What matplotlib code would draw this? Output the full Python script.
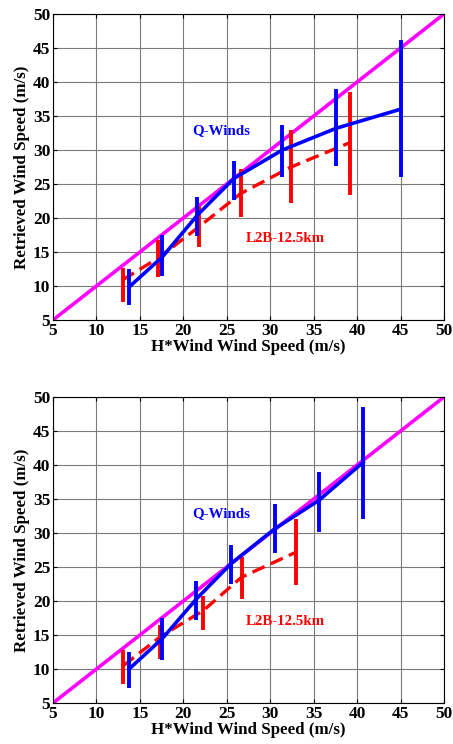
import matplotlib.pyplot as plt
import numpy as np

# ------- data --------------------------------#
# top panel
qx_top = [13.8, 17.6, 21.6, 25.8, 31.4, 37.6, 45.0]
qy_top = [9.9, 14.3, 20.4, 25.8, 30.0, 33.2, 36.0]
qlo_top = [7.2, 11.4, 17.3, 22.7, 26.1, 27.6, 26.1]
qhi_top = [12.45, 17.5, 23.1, 28.4, 33.7, 38.9, 46.2]

lx_top = [13.0, 17.1, 21.8, 26.6, 32.4, 39.2]
ly_top = [10.9, 14.1, 18.7, 23.6, 27.5, 31.1]
llo_top = [7.6, 11.3, 15.7, 20.2, 22.2, 23.4]
lhi_top = [12.7, 16.8, 21.7, 27.2, 32.9, 38.6]

# bottom panel
qx_bot = [13.8, 17.6, 21.5, 25.5, 30.5, 35.6, 40.7]
qy_bot = [10.05, 14.5, 20.3, 25.5, 30.6, 34.8, 40.4]
qlo_bot = [7.2, 11.3, 17.2, 22.5, 27.0, 30.2, 32.1]
qhi_bot = [12.5, 17.5, 23.0, 28.3, 34.3, 39.0, 48.5]

lx_bot = [13.1, 17.3, 22.3, 26.7, 33.0]
ly_bot = [10.5, 14.7, 18.6, 23.5, 27.2]
llo_bot = [7.8, 11.4, 15.8, 20.3, 22.3]
lhi_bot = [12.8, 16.4, 20.8, 26.5, 32.1]

ticks = [5, 10, 15, 20, 25, 30, 35, 40, 45, 50]

plt.rcParams['font.family'] = ['Liberation Serif', 'DejaVu Serif']
plt.rcParams['font.weight'] = 'bold'


def drawPanel(ax, qx, qy, qlo, qhi, lx, ly, llo, lhi):
    ax.grid(True, color='#7a7a7a', linewidth=0.8)
    ax.set_axisbelow(True)
    # 1:1 line
    ax.plot([5, 50], [5, 50], color='#ff00ff', linewidth=2.6, zorder=2)
    # L2B-12.5km
    ly_arr = np.array(ly)
    ax.errorbar(lx, ly, yerr=[ly_arr - np.array(llo), np.array(lhi) - ly_arr],
                color='#ff0000', linewidth=2.4, linestyle='--', dashes=(4, 2),
                elinewidth=2.8, capsize=0, zorder=3)
    # Q-Winds
    qy_arr = np.array(qy)
    ax.errorbar(qx, qy, yerr=[qy_arr - np.array(qlo), np.array(qhi) - qy_arr],
                color='#0000ff', linewidth=2.6, elinewidth=2.8, capsize=0, zorder=4)
    ax.text(24.4, 32.9, 'Q-Winds', color='#0000ff', fontsize=10.8, fontweight='bold',
            ha='center', va='center')
    ax.text(31.7, 17.0, 'L2B-12.5km', color='#ff0000', fontsize=10.8, fontweight='bold',
            ha='center', va='center')
    ax.set_xlim(5, 50)
    ax.set_ylim(5, 50)
    ax.set_xticks(ticks)
    ax.set_yticks(ticks)
    ax.tick_params(direction='in', top=True, right=True, labelsize=12.5, length=3, pad=2)
    for lab in ax.get_xticklabels() + ax.get_yticklabels():
        lab.set_fontweight('bold')
    ax.set_xlabel('H*Wind Wind Speed (m/s)', fontsize=12.2, fontweight='bold', labelpad=0)
    ax.set_ylabel('Retrieved Wind Speed (m/s)', fontsize=12.2, fontweight='bold', labelpad=2)


fig = plt.figure(figsize=(4.53, 7.44), dpi=100)
ax1 = fig.add_axes([53 / 453, 1 - 320 / 744, 391 / 453, 306 / 744])
ax2 = fig.add_axes([53 / 453, 1 - 703 / 744, 391 / 453, 306 / 744])

drawPanel(ax1, qx_top, qy_top, qlo_top, qhi_top, lx_top, ly_top, llo_top, lhi_top)
drawPanel(ax2, qx_bot, qy_bot, qlo_bot, qhi_bot, lx_bot, ly_bot, llo_bot, lhi_bot)

fig.savefig('out.png', dpi=100)
